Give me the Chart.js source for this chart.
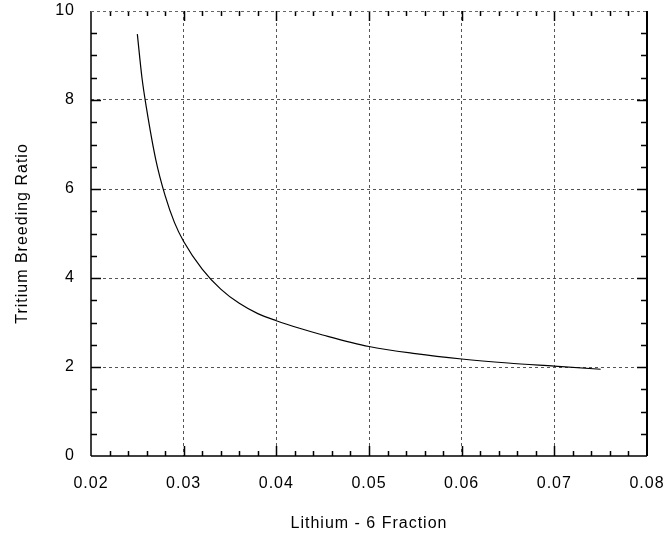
<!DOCTYPE html>
<html>
<head>
<meta charset="utf-8">
<script src="https://cdn.jsdelivr.net/npm/chart.js@4.4.1/dist/chart.umd.min.js"></script>
<style>
html,body{margin:0;padding:0;background:#fff;}
#wrap{width:663px;height:533px;position:relative;}
</style>
</head>
<body>
<div id="wrap"><canvas id="c" width="663" height="533"></canvas></div>
<script>
// Data
const lithium6Fraction = [0.025, 0.0255, 0.026, 0.027, 0.028, 0.029, 0.030, 0.032, 0.034, 0.036, 0.038, 0.040, 0.0425, 0.045, 0.050, 0.055, 0.060, 0.065, 0.070, 0.075];
const tritiumBreedingRatio = [9.48, 8.5, 7.8, 6.65, 5.85, 5.25, 4.82, 4.2, 3.75, 3.43, 3.2, 3.04, 2.87, 2.72, 2.46, 2.30, 2.18, 2.09, 2.02, 1.95];
const xTickLabels = ['0.02', '0.03', '0.04', '0.05', '0.06', '0.07', '0.08'];
const yTickLabels = ['0', '2', '4', '6', '8', '10'];
const xMinorStep = 0.002;
const yMinorStep = 0.5;

const FONT = "'Liberation Sans', Arial, sans-serif";

const points = lithium6Fraction.map((x, i) => ({x: x, y: tritiumBreedingRatio[i]}));

const xMajors = xTickLabels.map(Number);
const yMajors = yTickLabels.map(Number);

function isMajor(v, majors) {
  return majors.some(m => Math.abs(m - v) < 1e-9);
}

const spacing = {
  id: 'spacing',
  beforeLayout(chart) { chart.ctx.letterSpacing = '1px'; },
  beforeDraw(chart) { chart.ctx.letterSpacing = '1px'; }
};

const innerTicks = {
  id: 'innerTicks',
  afterDraw(chart) {
    const {ctx, chartArea: a, scales: {x, y}} = chart;
    ctx.save();
    ctx.strokeStyle = '#000';
    ctx.lineWidth = 1.5;
    const nx = Math.round((x.max - x.min) / xMinorStep);
    for (let i = 1; i < nx; i++) {
      const v = x.min + i * xMinorStep;
      const px = Math.round(x.getPixelForValue(v)) + 0.5;
      const len = isMajor(v, xMajors) ? 10 : 5;
      ctx.beginPath();
      ctx.moveTo(px, a.bottom); ctx.lineTo(px, a.bottom - len);
      ctx.moveTo(px, a.top); ctx.lineTo(px, a.top + len);
      ctx.stroke();
    }
    const ny = Math.round((y.max - y.min) / yMinorStep);
    for (let i = 1; i < ny; i++) {
      const v = y.min + i * yMinorStep;
      const py = Math.round(y.getPixelForValue(v)) + 0.5;
      const len = isMajor(v, yMajors) ? 10 : 6;
      ctx.beginPath();
      ctx.moveTo(a.left, py); ctx.lineTo(a.left + len, py);
      ctx.moveTo(a.right, py); ctx.lineTo(a.right - len, py);
      ctx.stroke();
    }
    ctx.lineWidth = 1.5;
    ctx.beginPath();
    ctx.moveTo(a.left, a.bottom); ctx.lineTo(a.right, a.bottom);
    ctx.moveTo(a.left, a.top); ctx.lineTo(a.left, a.bottom);
    ctx.stroke();
    ctx.lineWidth = 2;
    ctx.beginPath();
    ctx.moveTo(a.right, a.top); ctx.lineTo(a.right, a.bottom);
    ctx.stroke();
    ctx.lineWidth = 1;
    ctx.strokeStyle = '#666';
    ctx.setLineDash([3, 3]);
    ctx.beginPath();
    ctx.moveTo(a.left, a.top + 0.5); ctx.lineTo(a.right, a.top + 0.5);
    ctx.stroke();
    ctx.restore();
  }
};

new Chart(document.getElementById('c'), {
  type: 'line',
  data: {
    datasets: [{
      data: points,
      borderColor: '#000',
      borderWidth: 1.2,
      pointRadius: 0,
      fill: false,
      cubicInterpolationMode: 'monotone'
    }]
  },
  options: {
    responsive: false,
    animation: false,
    devicePixelRatio: 1,
    layout: {padding: 0},
    plugins: {legend: {display: false}, tooltip: {enabled: false}},
    scales: {
      x: {
        type: 'linear',
        min: 0.02,
        max: 0.08,
        afterFit(s) { s.height = 77; s.paddingRight = 16; s.paddingLeft = 0; },
        afterBuildTicks(s) { s.ticks = xMajors.map(v => ({value: v})); },
        ticks: {
          callback: (v) => xTickLabels[xMajors.findIndex(m => Math.abs(m - v) < 1e-9)],
          color: '#000',
          font: {family: FONT, size: 16},
          padding: 18,
          maxRotation: 0
        },
        grid: {
          drawTicks: false,
          color: (c) => (c.tick && (Math.abs(c.tick.value - 0.02) < 1e-9 || Math.abs(c.tick.value - 0.08) < 1e-9)) ? 'rgba(0,0,0,0)' : '#555',
          lineWidth: 1
        },
        border: {display: false, dash: [3, 3]},
        title: {
          display: true,
          text: 'Lithium - 6 Fraction',
          color: '#000',
          font: {family: FONT, size: 16},
          padding: {top: 0, bottom: 0}
        }
      },
      y: {
        type: 'linear',
        min: 0,
        max: 10,
        afterFit(s) { s.width = 91; s.paddingTop = 11; s.paddingBottom = 0; },
        afterBuildTicks(s) { s.ticks = yMajors.map(v => ({value: v})); },
        ticks: {
          callback: (v) => yTickLabels[yMajors.findIndex(m => Math.abs(m - v) < 1e-9)],
          color: '#000',
          font: {family: FONT, size: 16},
          padding: 16
        },
        grid: {
          drawTicks: false,
          color: (c) => (c.tick && (c.tick.value === 0 || c.tick.value === 10)) ? 'rgba(0,0,0,0)' : '#555',
          lineWidth: 1
        },
        border: {display: false, dash: [3, 3]},
        title: {
          display: true,
          text: 'Tritium Breeding Ratio',
          color: '#000',
          font: {family: FONT, size: 16},
          padding: {top: 13, bottom: 0}
        }
      }
    }
  },
  plugins: [spacing, innerTicks]
});
</script>
</body>
</html>
